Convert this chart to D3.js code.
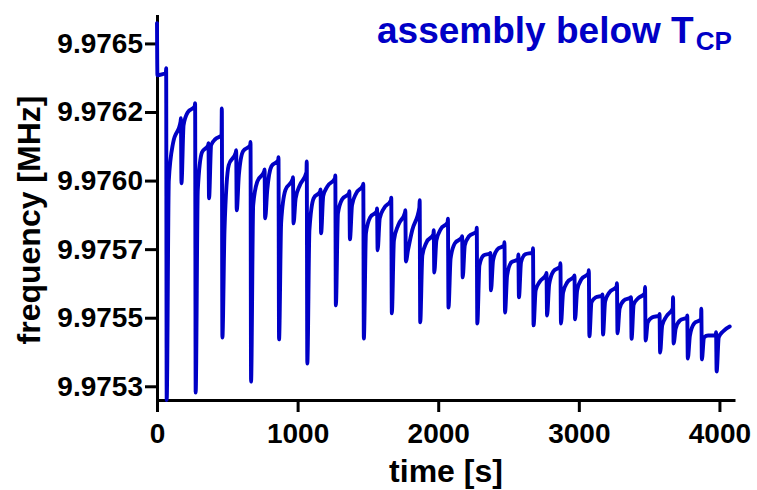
<!DOCTYPE html>
<html>
<head>
<meta charset="utf-8">
<script src="https://cdn.jsdelivr.net/npm/d3@7"></script>
<style>
  html, body { margin: 0; padding: 0; background: #fff; }
  svg { display: block; font-family: "Liberation Sans", Arial, sans-serif; font-weight: bold; }
</style>
</head>
<body>
<div id="chart"></div>
<script>
// readings taken off the trace, frequency in MHz, time in s
const startTime = [0, 3, 40];
const startValue = [9.976574, 9.976384, 9.976388];

const injTime = [64, 169, 270, 365, 460, 562, 664, 764, 863, 966,
  1064, 1162, 1267, 1367, 1466, 1564, 1665, 1765, 1867, 1967,
  2068, 2169, 2273, 2370, 2470, 2569, 2673, 2769, 2868, 2968,
  3070, 3167, 3270, 3370, 3470, 3573, 3669, 3770, 3870, 3975];

const levelBefore = [9.976392, 9.976216, 9.976271, 9.976129, 9.976165, 9.976103, 9.976129, 9.976034, 9.976074, 9.976005,
  9.976030, 9.975961, 9.976008, 9.975954, 9.975983, 9.975888, 9.975928, 9.975884, 9.975902, 9.975804,
  9.975848, 9.975793, 9.975815, 9.975735, 9.975764, 9.975713, 9.975738, 9.975658, 9.975687, 9.975651,
  9.975662, 9.975581, 9.975614, 9.975574, 9.975589, 9.975508, 9.975534, 9.975501, 9.975494, 9.975435];

const spikeTop = [9.976410, 9.976227, 9.976282, 9.976136, 9.976263, 9.976111, 9.976141, 9.976041, 9.976085, 9.976012,
  9.976070, 9.975968, 9.976019, 9.975961, 9.975989, 9.975898, 9.975938, 9.975892, 9.975928, 9.975819,
  9.975861, 9.975797, 9.975828, 9.975736, 9.975775, 9.975731, 9.975753, 9.975663, 9.975699, 9.975654,
  9.975673, 9.975585, 9.975626, 9.975575, 9.975612, 9.975514, 9.975575, 9.975508, 9.975533, 9.975447];

const dipBottom = [9.975200, 9.975990, 9.975227, 9.975935, 9.975428, 9.975892, 9.975267, 9.975862, 9.975421, 9.975844,
  9.975333, 9.975808, 9.975545, 9.975786, 9.975424, 9.975746, 9.975516, 9.975705, 9.975483, 9.975665,
  9.975537, 9.975647, 9.975479, 9.975600, 9.975519, 9.975574, 9.975472, 9.975508, 9.975479, 9.975494,
  9.975432, 9.975439, 9.975443, 9.975423, 9.975417, 9.975373, 9.975406, 9.975351, 9.975348, 9.975304];

// value 20 s and 50 s after each injection
const recovery20 = [9.976001, 9.976202, 9.975965, 9.976129, 9.975819, 9.976019, 9.975910, 9.975965, 9.975848, 9.975935,
  9.975819, 9.975943, 9.975881, 9.975910, 9.975808, 9.975862, 9.975782, 9.975746, 9.975727, 9.975782,
  9.975716, 9.975764, 9.975691, 9.975709, 9.975654, 9.975702, 9.975600, 9.975621, 9.975592, 9.975600,
  9.975556, 9.975559, 9.975534, 9.975548, 9.975483, 9.975472, 9.975461, 9.975435, 9.975428, 9.975428];

const recovery50 = [9.976136, 9.976249, 9.976103, 9.976151, 9.976056, 9.976107, 9.975997, 9.976052, 9.975965, 9.975983,
  9.975935, 9.975979, 9.975932, 9.975954, 9.975866, 9.975899, 9.975837, 9.975819, 9.975775, 9.975822,
  9.975771, 9.975797, 9.975727, 9.975749, 9.975702, 9.975731, 9.975632, 9.975669, 9.975629, 9.975640,
  9.975574, 9.975592, 9.975563, 9.975570, 9.975501, 9.975505, 9.975490, 9.975479, 9.975435, 9.975450];

const endTime = 4073;
const endValue = 9.975468;

const xTicks = [0, 1000, 2000, 3000, 4000];
const yTicks = [9.97525, 9.9755, 9.97575, 9.976, 9.97625, 9.9765];
const yTickLabels = ["9.9753", "9.9755", "9.9757", "9.9760", "9.9762", "9.9765"];

const width = 757, height = 490;
const blue = "#0000c6";

const trace = startTime.map((t, i) => [t, startValue[i]]);
injTime.forEach((t, i) => {
  trace.push([t - 1, levelBefore[i]]);
  trace.push([t + 1, spikeTop[i]]);
  trace.push([t + 5, dipBottom[i]]);
  trace.push([t + 20, recovery20[i]]);
  trace.push([t + 50, recovery50[i]]);
});
trace.push([endTime, endValue]);

const x = d3.scaleLinear().domain([0, 4100]).range([157, 733.5]);
const y = d3.scaleLinear().domain([9.9752, 9.9766]).range([400, 16]);

const svg = d3.select("#chart").append("svg")
  .attr("width", width)
  .attr("height", height)
  .attr("viewBox", [0, 0, width, height]);

const gX = svg.append("g")
  .attr("transform", `translate(0,${y.range()[0]})`)
  .call(d3.axisBottom(x).tickValues(xTicks).tickSize(12).tickSizeOuter(0).tickPadding(11).tickFormat(d3.format("d")));

const gY = svg.append("g")
  .attr("transform", `translate(${x.range()[0]},0)`)
  .call(d3.axisLeft(y).tickValues(yTicks).tickSize(12).tickSizeOuter(0).tickPadding(2)
    .tickFormat((d, i) => yTickLabels[i]));

[gX, gY].forEach((g) => {
  g.select(".domain").attr("stroke", "#000").attr("stroke-width", 3).attr("stroke-linecap", "square");
  g.selectAll(".tick line").attr("stroke", "#000").attr("stroke-width", 3);
  g.selectAll(".tick text")
    .attr("fill", "#000")
    .attr("font-size", 28)
    .attr("font-weight", "bold")
    .attr("font-family", "Liberation Sans, Arial, sans-serif");
});

svg.append("text")
  .attr("transform", "translate(40,220) rotate(-90)")
  .attr("text-anchor", "middle")
  .attr("font-size", 32)
  .text("frequency [MHz]");

svg.append("text")
  .attr("x", 446)
  .attr("y", 482)
  .attr("text-anchor", "middle")
  .attr("font-size", 32)
  .text("time [s]");

const title = svg.append("text")
  .attr("x", 377)
  .attr("y", 43)
  .attr("fill", blue)
  .attr("font-size", 37);
title.append("tspan").text("assembly below T");
title.append("tspan").attr("dx", 2).attr("dy", 7).attr("font-size", 26).text("CP");

const line = d3.line()
  .x((d) => x(d[0]))
  .y((d) => y(d[1]))
  .curve(d3.curveMonotoneX);

svg.append("path")
  .datum(trace)
  .attr("fill", "none")
  .attr("stroke", blue)
  .attr("stroke-width", 3.9)
  .attr("stroke-linejoin", "round")
  .attr("stroke-linecap", "round")
  .attr("d", line);
</script>
</body>
</html>
